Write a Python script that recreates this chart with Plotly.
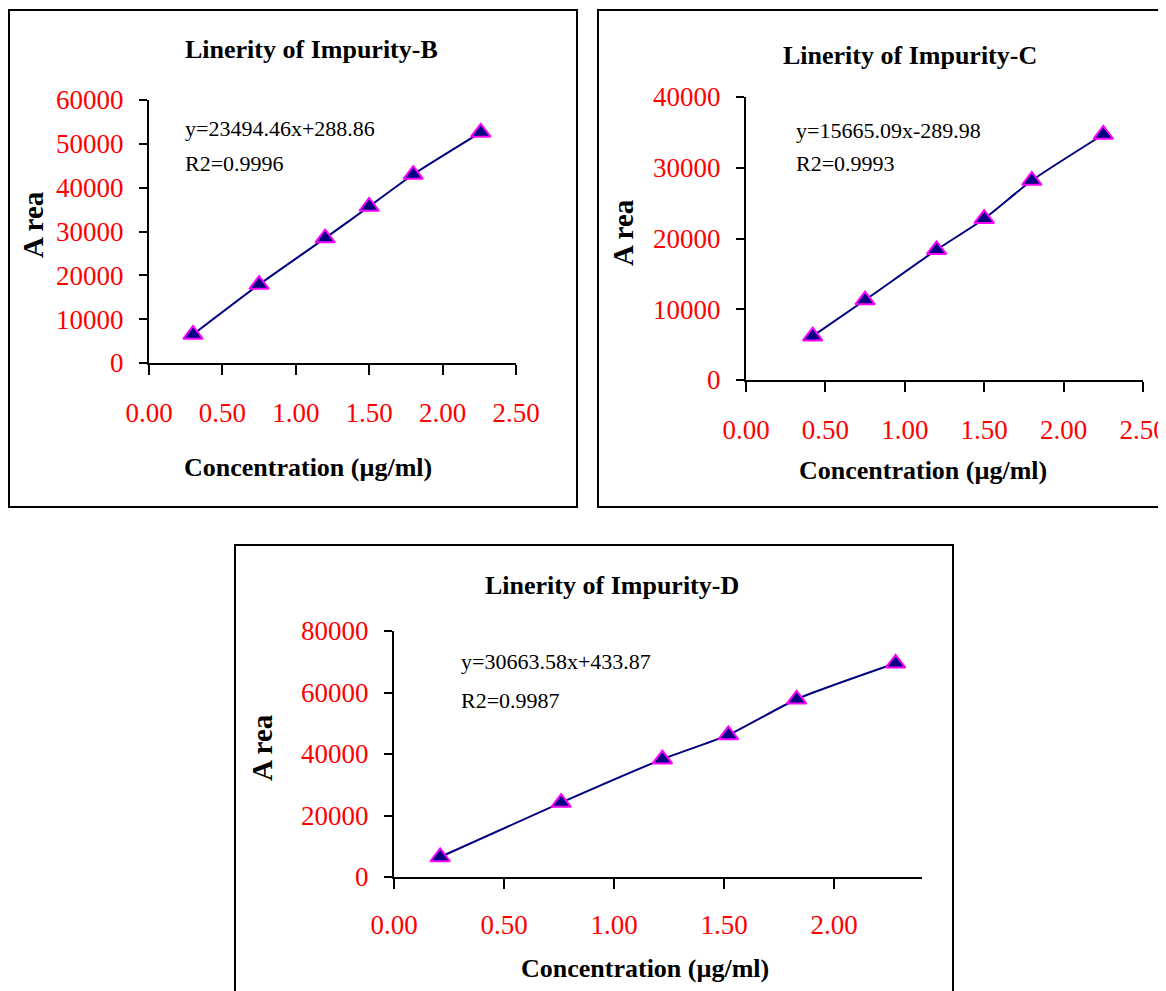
import plotly.graph_objects as go

# ---- data ----
conc_b = [0.30, 0.75, 1.20, 1.50, 1.80, 2.26]
area_b = [6500, 17900, 28500, 35700, 43000, 52600]
conc_c = [0.42, 0.75, 1.20, 1.50, 1.80, 2.25]
area_c = [6200, 11300, 18400, 22800, 28200, 34700]
conc_d = [0.21, 0.76, 1.22, 1.52, 1.83, 2.28]
area_d = [6500, 24200, 38300, 46200, 57800, 69500]

titles = ["Linerity of Impurity-B", "Linerity of Impurity-C", "Linerity of Impurity-D"]
equations = ["y=23494.46x+288.86", "y=15665.09x-289.98", "y=30663.58x+433.87"]
r2_texts = ["R2=0.9996", "R2=0.9993", "R2=0.9987"]
x_title = "Concentration (µg/ml)"
y_title = "A rea"

W, H = 1166, 991
OFF = 8  # page body margin
def px(x): return (x - OFF) / W
def py(y): return 1 - (y - OFF) / H

SERIF = "Liberation Serif, Times New Roman, serif"
NAVY = "#000080"
MAG = "#FF00FF"

fig = go.Figure()

panels = [
    dict(x=conc_b, y=area_b, xd=(149, 516), yd=(363, 100), xr=[0, 2.5], yr=[0, 60000], dy=10000,
         box=(9, 10, 577, 507), title=(311, 50), xt=(308, 467), yt=(33, 225), eq=(183, 129, 163), so=15),
    dict(x=conc_c, y=area_c, xd=(746, 1143), yd=(380, 97), xr=[0, 2.5], yr=[0, 40000], dy=10000,
         box=(598, 10, 1180, 507), title=(910, 55), xt=(923, 470), yt=(623, 233), eq=(794, 130, 163), so=15),
    dict(x=conc_d, y=area_d, xd=(394, 922), yd=(877, 631), xr=[0, 2.4], yr=[0, 80000], dy=20000,
         box=(235, 545, 953, 1005), title=(612, 585), xt=(645, 968), yt=(262, 748), eq=(459, 661, 700), so=13),
]

annotations = []
shapes = []
for i, p in enumerate(panels):
    n = "" if i == 0 else str(i + 1)
    fig.add_trace(go.Scatter(
        x=p["x"], y=p["y"], mode="lines+markers",
        line=dict(color=NAVY, width=2, shape="spline", smoothing=0.6),
        marker=dict(symbol="triangle-up", size=17, color=NAVY, line=dict(color=MAG, width=2)),
        xaxis="x" + n, yaxis="y" + n, showlegend=False, cliponaxis=False,
    ))
    common = dict(showgrid=False, zeroline=False, showline=True, linecolor="black", linewidth=2,
                  ticks="outside", tickcolor="black", tickwidth=2, automargin=False,
                  ticklabeloverflow="allow",
                  tickfont=dict(family=SERIF, size=27, color="red"))
    fig.update_layout(**{
        "xaxis" + n: dict(domain=[px(p["xd"][0]), px(p["xd"][1])], range=p["xr"], dtick=0.5,
                          tick0=0, tickformat=".2f", ticklen=10, anchor="y" + n,
                          ticklabelstandoff=p["so"], **common),
        "yaxis" + n: dict(domain=[py(p["yd"][0]), py(p["yd"][1])], range=p["yr"], dtick=p["dy"],
                          tick0=0, tickformat="d", ticklen=8, anchor="x" + n,
                          ticklabelstandoff=10, **common),
    })
    x0, y0, x1, y1 = p["box"]
    shapes.append(dict(type="rect", xref="paper", yref="paper", x0=px(x0), x1=px(x1),
                       y0=py(y1), y1=py(y0), line=dict(color="black", width=2), layer="below"))
    annotations.append(dict(text="<b>" + titles[i] + "</b>", x=px(p["title"][0]), y=py(p["title"][1]),
                            xref="paper", yref="paper", showarrow=False, xanchor="center", yanchor="middle",
                            font=dict(family=SERIF, size=26, color="black")))
    annotations.append(dict(text="<b>" + x_title + "</b>", x=px(p["xt"][0]), y=py(p["xt"][1]),
                            xref="paper", yref="paper", showarrow=False, xanchor="center", yanchor="middle",
                            font=dict(family=SERIF, size=26, color="black")))
    annotations.append(dict(text="<b>" + y_title + "</b>", x=px(p["yt"][0]), y=py(p["yt"][1]),
                            xref="paper", yref="paper", showarrow=False, xanchor="center", yanchor="middle",
                            textangle=-90, font=dict(family=SERIF, size=29, color="black")))
    annotations.append(dict(text=equations[i], x=px(p["eq"][0]), y=py(p["eq"][1]),
                            xref="paper", yref="paper", showarrow=False, xanchor="left", yanchor="middle",
                            font=dict(family=SERIF, size=22, color="black")))
    annotations.append(dict(text=r2_texts[i], x=px(p["eq"][0]), y=py(p["eq"][2]),
                            xref="paper", yref="paper", showarrow=False, xanchor="left", yanchor="middle",
                            font=dict(family=SERIF, size=22, color="black")))

fig.update_layout(width=W, height=H, margin=dict(l=0, r=0, t=0, b=0, autoexpand=False),
                  paper_bgcolor="white", plot_bgcolor="white",
                  annotations=annotations, shapes=shapes)

fig.write_html("out.html")
